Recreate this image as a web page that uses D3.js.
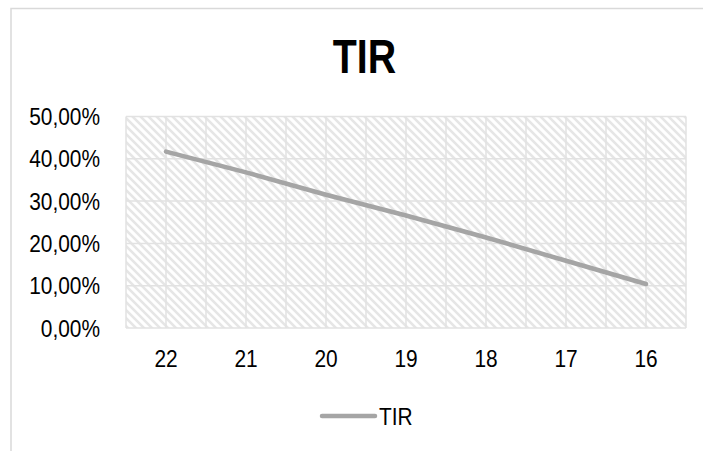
<!DOCTYPE html>
<html><head><meta charset="utf-8">
<script src="https://cdn.jsdelivr.net/npm/d3@7/dist/d3.min.js"></script>
<style>
html,body{margin:0;padding:0;background:#fff;}
svg{display:block;}
text{font-family:"Liberation Sans Narrow","Arial Narrow","Liberation Sans",Arial,sans-serif;}
</style></head>
<body>
<svg id="c" width="703" height="451"></svg>
<script>
const title = "TIR";
const seriesName = "TIR";
const categories = ["22","21","20","19","18","17","16"];
const values = [0.417, 0.368, 0.315, 0.266, 0.214, 0.159, 0.104];
const yTicks = [0, 0.1, 0.2, 0.3, 0.4, 0.5];

const svg = d3.select("#c");
const W = 703, H = 451;
const plot = {left:126, right:686, top:116.5, bottom:328};
const NARROW = "scale(0.82,1)";
const NARROW_S = "scale(0.87,1)";

svg.append("rect").attr("x",11).attr("y",8.5).attr("width",W+20).attr("height",H+20)
  .attr("fill","#fff").attr("stroke","#d9d9d9").attr("stroke-width",1.5);

const defs = svg.append("defs");
const pat = defs.append("pattern").attr("id","hatch").attr("patternUnits","userSpaceOnUse")
  .attr("width",8).attr("height",8);
pat.append("rect").attr("width",8).attr("height",8).attr("fill","#fff");
pat.append("path").attr("d","M-2,-2L10,10M-2,6L2,10M6,-2L10,2")
  .attr("stroke","#e6e6e6").attr("stroke-width",2.5);

const x = d3.scaleBand().domain(categories).range([plot.left, plot.right]);
const y = d3.scaleLinear().domain([0,0.5]).range([plot.bottom, plot.top]);

svg.append("rect").attr("x",plot.left).attr("y",plot.top)
  .attr("width",plot.right-plot.left).attr("height",plot.bottom-plot.top)
  .attr("fill","url(#hatch)");

// vertical gridlines: band edges and band centres
const g = svg.append("g").attr("stroke","#e2e2e2").attr("stroke-width",1.5);
const vx = [];
categories.forEach(c => { vx.push(x(c)); vx.push(x(c)+x.bandwidth()/2); });
vx.push(plot.right);
vx.forEach(v => g.append("line").attr("x1",v).attr("x2",v).attr("y1",plot.top).attr("y2",plot.bottom));
yTicks.forEach(t => g.append("line").attr("x1",plot.left).attr("x2",plot.right).attr("y1",y(t)).attr("y2",y(t)));

// y axis labels
const fmt = d => d3.format(".2f")(d*100).replace(".",",") + "%";
const yAxis = d3.axisLeft(y).tickValues(yTicks).tickFormat(fmt).tickSize(0).tickPadding(0);
const ya = svg.append("g").attr("transform","translate(100,0)").call(yAxis);
ya.select(".domain").remove();
ya.selectAll("text").attr("font-size",24).attr("fill","#000").attr("x",0)
  .style("font-family",'"Liberation Sans Narrow","Arial Narrow","Liberation Sans",sans-serif')
  .attr("dy","0.34em").attr("transform",NARROW_S);

// x axis labels
const xAxis = d3.axisBottom(x).tickSize(0).tickPadding(0);
const xa = svg.append("g").attr("transform","translate(0,350)").call(xAxis);
xa.select(".domain").remove();
xa.selectAll("text").attr("font-size",24).attr("fill","#000").attr("y",0)
  .style("font-family",'"Liberation Sans Narrow","Arial Narrow","Liberation Sans",sans-serif')
  .attr("dy","0.72em").attr("transform",NARROW_S);

// line
const line = d3.line().x((d,i)=>x(categories[i])+x.bandwidth()/2).y(d=>y(d));
svg.append("path").datum(values).attr("d",line).attr("fill","none")
  .attr("stroke","#a5a5a5").attr("stroke-width",4.5).attr("stroke-linecap","round").attr("stroke-linejoin","round");

// title
svg.append("text").attr("transform","translate(364.5,73) " + NARROW).attr("text-anchor","middle")
  .attr("font-size",48).attr("font-weight","bold").attr("fill","#000").text(title);

// legend
svg.append("line").attr("x1",322).attr("x2",375).attr("y1",416).attr("y2",416)
  .attr("stroke","#a5a5a5").attr("stroke-width",4.5).attr("stroke-linecap","round");
svg.append("text").attr("transform","translate(379,425) " + NARROW_S)
  .attr("font-size",24).attr("fill","#000").text(seriesName);
</script>
</body></html>
